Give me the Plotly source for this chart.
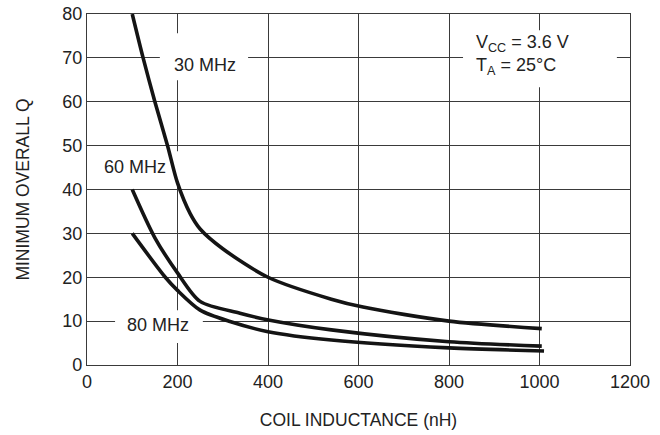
import plotly.graph_objects as go

# curves: coil inductance (nH) -> minimum overall Q
l_30 = [100, 124, 150, 178, 200, 228, 250, 300, 400, 540, 610, 800, 1005]
q_30 = [80, 70, 60, 50, 41.5, 34.5, 31, 26.5, 20, 15, 13.2, 10, 8.3]

l_60 = [100, 150, 200, 250, 338, 404, 540, 800, 1005]
q_60 = [40, 29, 21, 14.5, 11.8, 10.2, 8, 5.3, 4.3]

l_80 = [100, 173, 200, 250, 316, 400, 540, 800, 1010]
q_80 = [30, 20, 17, 12.5, 9.9, 7.6, 5.7, 3.9, 3.2]

curve_names = ['30 MHz', '60 MHz', '80 MHz']
x_ticks = [0, 200, 400, 600, 800, 1000, 1200]
y_ticks = [0, 10, 20, 30, 40, 50, 60, 70, 80]

FONT = 'Liberation Sans, Arial'
INK = '#222222'
GRID = '#3a3a3a'
FS = 18

fig = go.Figure()
for xs, ys, name in zip([l_30, l_60, l_80], [q_30, q_60, q_80], curve_names):
    fig.add_trace(go.Scatter(x=xs, y=ys, mode='lines', name=name,
                             line=dict(color='#141414', width=3.6, shape='spline', smoothing=0.8),
                             hoverinfo='skip'))

# white boxes that break the grid behind the labels (under the curves)
boxes = [(161, 356, 64.9, 75.6), (18, 206, 41.5, 48.7), (62, 256, 5.0, 12.5), (831, 1171, 63.3, 76.3)]
for x0, x1, y0, y1 in boxes:
    fig.add_shape(type='rect', x0=x0, x1=x1, y0=y0, y1=y1, xref='x', yref='y',
                  fillcolor='white', line=dict(width=0), layer='between')

labels = [(261, 68.4, '30 MHz'), (106, 45.1, '60 MHz'), (157, 9.1, '80 MHz')]
for x, y, t in labels:
    fig.add_annotation(x=x, y=y, text=t, showarrow=False, font=dict(size=FS, color=INK, family=FONT))

fig.add_annotation(x=855, y=70.6, text='V<sub>CC</sub> = 3.6 V<br>T<sub>A</sub> = 25°C', showarrow=False,
                   xanchor='left', align='left', font=dict(size=FS, color=INK, family=FONT))

axis = dict(showgrid=True, gridcolor=GRID, gridwidth=1.2, showline=True, linecolor=GRID, linewidth=1.4,
            mirror=True, zeroline=False, ticks='', automargin=False, ticklabeloverflow='allow',
            tickfont=dict(size=FS, color=INK, family=FONT))

fig.update_xaxes(range=[0, 1200], tickvals=x_ticks, title=dict(text='COIL INDUCTANCE (nH)', standoff=22,
                 font=dict(size=17.5, color=INK, family=FONT)), **axis)
fig.update_yaxes(range=[0, 80], tickvals=y_ticks, title=dict(text='MINIMUM OVERALL Q', standoff=28,
                 font=dict(size=17.5, color=INK, family=FONT)), **axis)

fig.update_layout(width=660, height=435, showlegend=False, plot_bgcolor='white', paper_bgcolor='white',
                  margin=dict(l=87, r=30, t=14, b=70), font=dict(family=FONT, color=INK))

# drop the default 8px page margin so the figure sits at the window corner
fig.write_html('out.html', config={'displayModeBar': False},
               post_script="document.body.style.margin='0';")
